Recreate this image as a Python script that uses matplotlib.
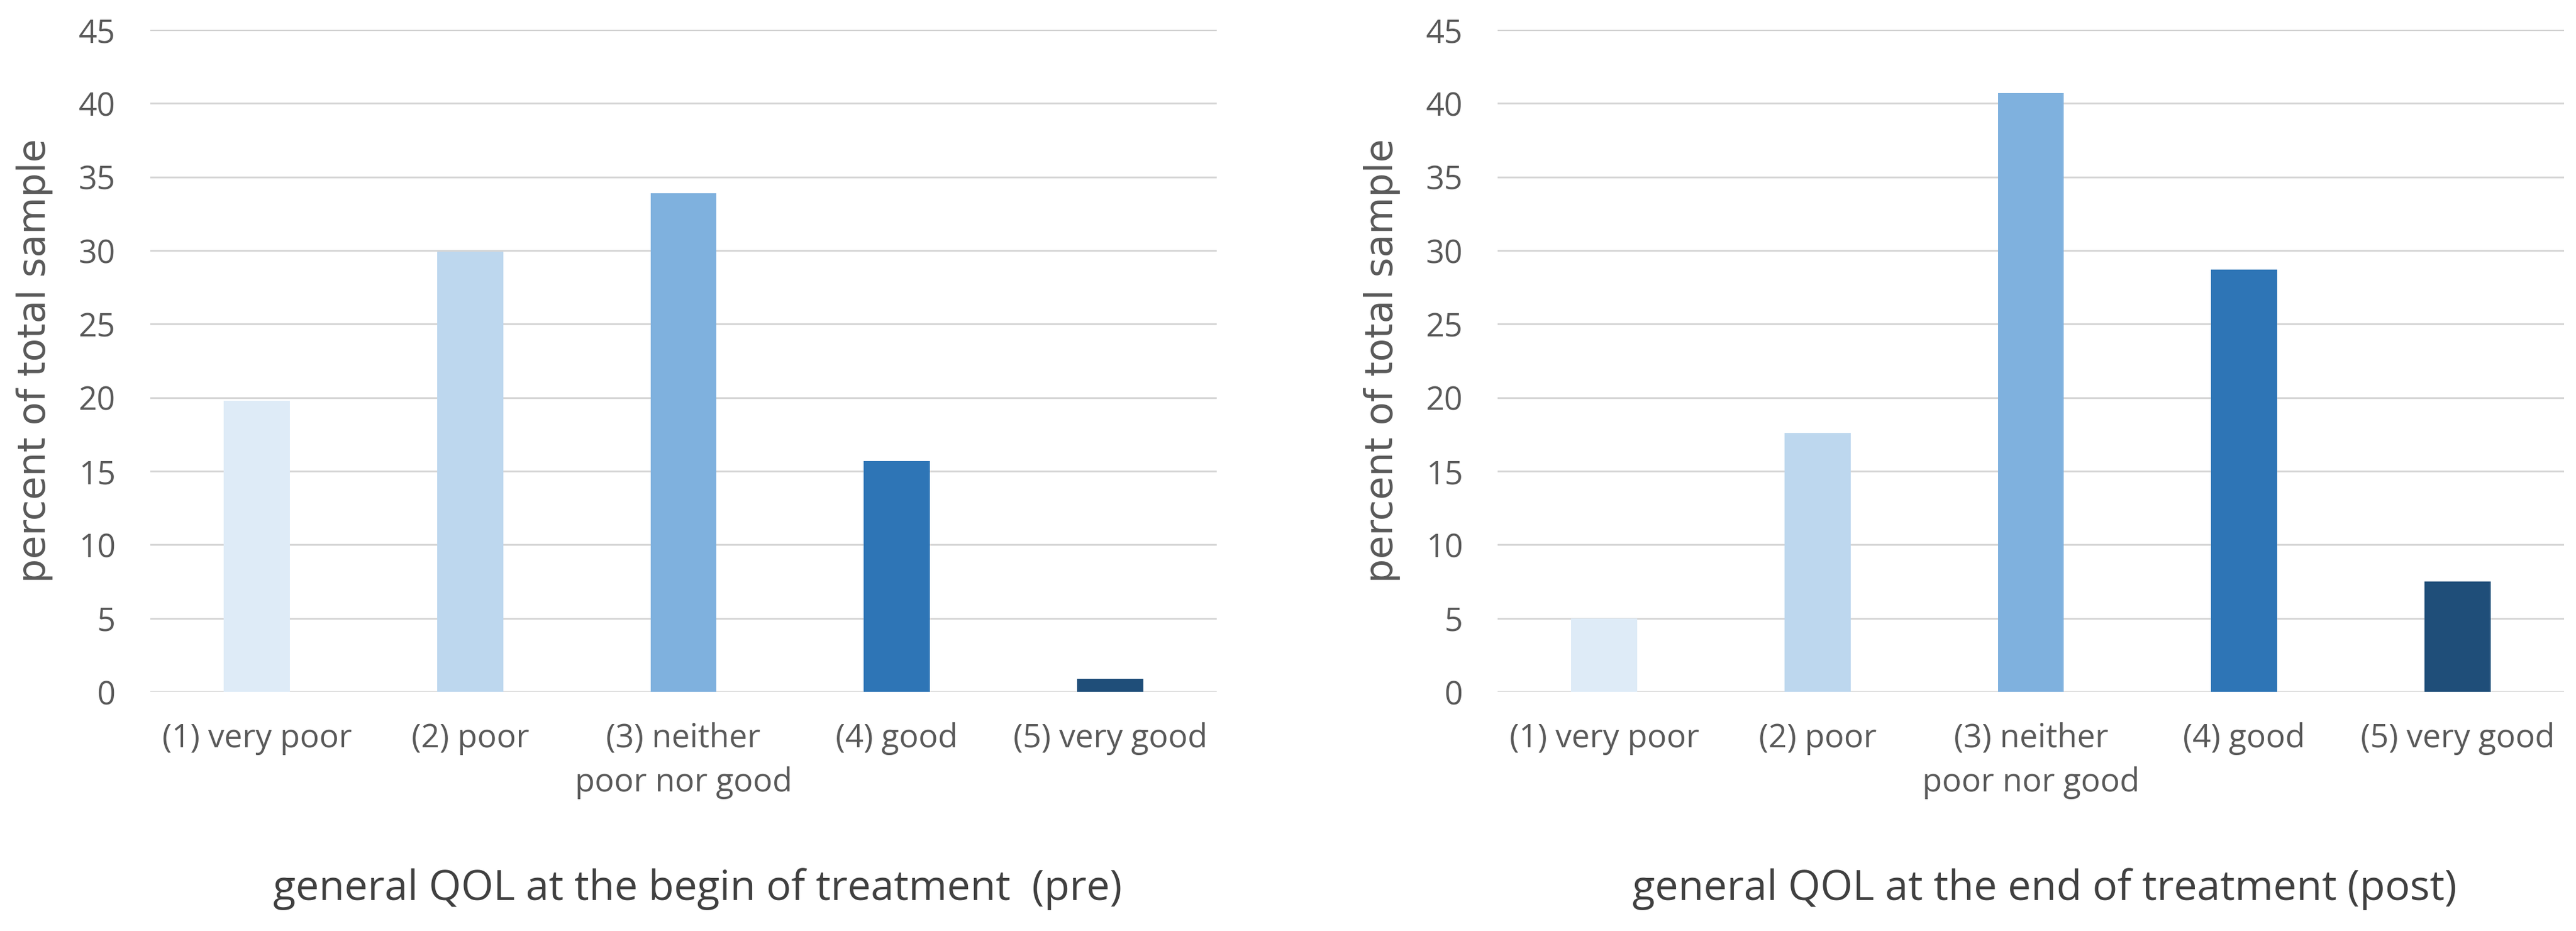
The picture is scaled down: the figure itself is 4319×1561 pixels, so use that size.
import matplotlib
matplotlib.use("Agg")
import matplotlib.pyplot as plt
import numpy as np

# data
categories = ["(1) very poor", "(2) poor", "(3) neither\npoor nor good", "(4) good", "(5) very good"]
pre_values = [19.8, 29.9, 33.9, 15.7, 0.9]
post_values = [5.0, 17.6, 40.7, 28.7, 7.5]
titles = ["general QOL at the begin of treatment  (pre)", "general QOL at the end of treatment (post)"]
bar_colors = ["#deebf7", "#bdd7ee", "#7fb1de", "#2e75b6", "#1f4e79"]

plt.rcParams['font.family'] = ['Open Sans', 'DejaVu Sans']

W, H = 4319, 1561
fig = plt.figure(figsize=(W / 100, H / 100), dpi=100)

panels = [(252, pre_values, titles[0]), (2511, post_values, titles[1])]
x = np.arange(len(categories))

for left, vals, title in panels:
    ax = fig.add_axes([left / W, (H - 1160) / H, 1788 / W, 1110 / H])
    ax.bar(x, vals, width=0.31, color=bar_colors, zorder=3)
    ax.set_xlim(-0.5, len(categories) - 0.5)
    ax.set_ylim(0, 45)
    ax.set_yticks(np.arange(0, 46, 5))
    ax.grid(axis='y', color='#d6d6d6', linewidth=2.2, zorder=0)
    ax.axhline(0, color='#c8c8c8', linewidth=2.4, zorder=1)
    for s in ['top', 'right', 'left', 'bottom']:
        ax.spines[s].set_visible(False)
    ax.tick_params(axis='both', length=0, labelsize=39, colors='#595959')
    ax.tick_params(axis='y', pad=42)
    ax.tick_params(axis='x', pad=37)
    ax.set_xticks(x)
    ax.set_xticklabels(categories, linespacing=1.45)
    ax.set_ylabel("percent of total sample", fontsize=46, color='#595959',
                  family=['DejaVu Sans'])
    ax.yaxis.set_label_coords(-0.091, 0.5)
    ax.set_xlabel(title, fontsize=50, color='#404040')
    ax.xaxis.set_label_coords(0.513, -0.266)

plt.savefig("out.png", dpi=100, facecolor='white')
